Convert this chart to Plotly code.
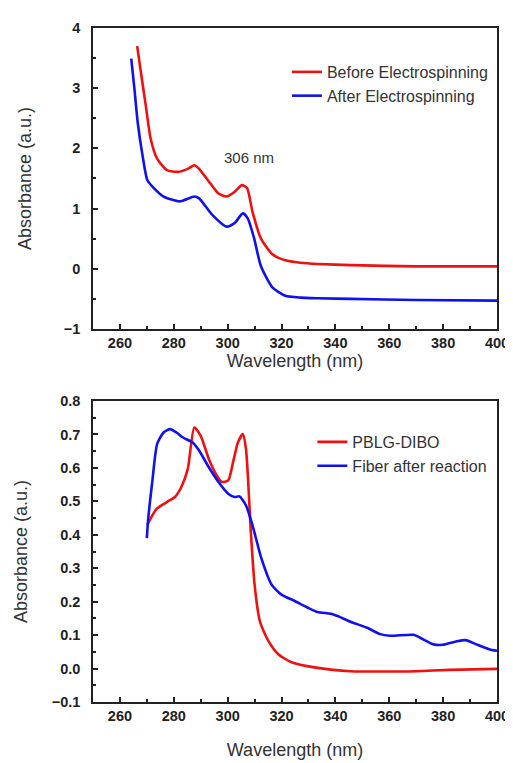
import plotly.graph_objects as go
from plotly.subplots import make_subplots

# top panel: before / after electrospinning
wl_before = [266.4, 267.8, 269.6, 271.4, 273.8, 277.4, 281.6, 285.2, 287.6, 289.4, 293.0, 296.6,
             299.6, 302.6, 305.3, 307.2, 309.2, 312.3, 316.6, 321.4, 327, 333.6, 345.8, 370.2, 400]
abs_before = [3.70, 3.26, 2.71, 2.16, 1.83, 1.64, 1.61, 1.66, 1.72, 1.66, 1.45, 1.25,
              1.20, 1.28, 1.39, 1.34, 0.95, 0.51, 0.24, 0.14, 0.10, 0.08, 0.06, 0.04, 0.04]

wl_after = [264.2, 265.4, 266.6, 268.4, 270.2, 272.6, 276.2, 282.2, 287.6, 289.4, 294.2, 299.6,
            302.6, 305.6, 307.4, 309.8, 312.3, 316.6, 321.4, 327, 333.6, 345.8, 370.2, 400]
abs_after = [3.49, 2.98, 2.43, 1.88, 1.47, 1.34, 1.20, 1.12, 1.20, 1.17, 0.90, 0.70,
             0.76, 0.92, 0.84, 0.51, 0.05, -0.31, -0.45, -0.48, -0.49, -0.50, -0.52, -0.53]

# bottom panel: PBLG-DIBO / fiber after reaction
wl_dibo = [270.2, 271.4, 273.8, 277.4, 280.4, 282.8, 285.2, 287.6, 290.0, 293.0, 296.0, 297.8,
           300.2, 302.0, 303.8, 305.6, 306.8, 308.6, 310.0, 312.0, 315.1, 318.8, 323.7, 333.4,
           345.6, 357.9, 370.1, 382.3, 400]
abs_dibo = [0.429, 0.449, 0.479, 0.498, 0.513, 0.543, 0.597, 0.721, 0.696, 0.627, 0.577, 0.558,
            0.563, 0.617, 0.676, 0.701, 0.657, 0.409, 0.25, 0.14, 0.083, 0.043, 0.019, 0.002,
            -0.008, -0.009, -0.008, -0.004, -0.001]

wl_fiber = [270.0, 270.4, 272.0, 273.8, 276.2, 278.6, 281.0, 283.4, 287.0, 289.4, 293.0, 296.6,
            300.2, 302.6, 304.4, 306.8, 309.2, 312.5, 316.3, 320.0, 324.9, 329.8, 333.4, 338.3,
            340.8, 345.6, 351.8, 356.6, 360.3, 368.9, 371.3, 376.2, 379.9, 384.8, 388.4, 392.1,
            397.0, 400.0]
abs_fiber = [0.390, 0.439, 0.558, 0.671, 0.706, 0.716, 0.706, 0.691, 0.676, 0.652, 0.602, 0.558,
             0.523, 0.513, 0.515, 0.488, 0.429, 0.330, 0.251, 0.221, 0.202, 0.182, 0.169, 0.164,
             0.157, 0.140, 0.122, 0.103, 0.098, 0.101, 0.093, 0.073, 0.071, 0.081, 0.085, 0.073,
             0.058, 0.053]

RED = "#f01010"
BLUE = "#1010f0"

fig = make_subplots(rows=2, cols=1, vertical_spacing=0.107)

fig.add_trace(go.Scatter(x=wl_before, y=abs_before, mode="lines", name="Before Electrospinning",
                         line=dict(color=RED, width=2.6, shape="spline", smoothing=0.6),
                         legend="legend"), row=1, col=1)
fig.add_trace(go.Scatter(x=wl_after, y=abs_after, mode="lines", name="After Electrospinning",
                         line=dict(color=BLUE, width=2.6, shape="spline", smoothing=0.6),
                         legend="legend"), row=1, col=1)
fig.add_trace(go.Scatter(x=wl_dibo, y=abs_dibo, mode="lines", name="PBLG-DIBO",
                         line=dict(color=RED, width=2.6, shape="spline", smoothing=0.6),
                         legend="legend2"), row=2, col=1)
fig.add_trace(go.Scatter(x=wl_fiber, y=abs_fiber, mode="lines", name="Fiber after reaction",
                         line=dict(color=BLUE, width=2.6, shape="spline", smoothing=0.6),
                         legend="legend2"), row=2, col=1)

tickfont = dict(family="Liberation Sans", size=14.5, color="#222", weight="bold")
titlefont = dict(family="Liberation Sans", size=18, color="#333")

xcommon = dict(range=[250, 400], tickvals=[260, 280, 300, 320, 340, 360, 380, 400],
               ticks="inside", ticklen=5, tickwidth=1.5, tickcolor="#222",
               minor=dict(dtick=10, tick0=250, ticks="inside", ticklen=3, tickcolor="#222"),
               showline=True, linecolor="#222", linewidth=1.6, mirror=True,
               showgrid=False, zeroline=False, tickfont=tickfont)
ycommon = dict(ticks="inside", ticklen=5, tickwidth=1.5, tickcolor="#222",
               showline=True, linecolor="#222", linewidth=1.6, mirror=True,
               showgrid=False, zeroline=False, tickfont=tickfont, ticklabelstandoff=8)

fig.update_xaxes(**xcommon)
fig.update_yaxes(**ycommon)

fig.update_xaxes(title=dict(text="Wavelength (nm)", font=titlefont, standoff=0), row=1, col=1)
fig.update_xaxes(title=dict(text="Wavelength (nm)", font=titlefont, standoff=20), row=2, col=1)
fig.update_yaxes(range=[-1, 4], dtick=1, tickformat="d",
                 minor=dict(dtick=0.5, ticks="inside", ticklen=3, tickcolor="#222"),
                 title=dict(text="Absorbance (a.u.)", font=titlefont, standoff=27), row=1, col=1)
fig.update_yaxes(range=[-0.1, 0.8], dtick=0.1, tickformat=".1f",
                 minor=dict(dtick=0.05, ticks="inside", ticklen=3, tickcolor="#222"),
                 title=dict(text="Absorbance (a.u.)", font=titlefont, standoff=19), row=2, col=1)

fig.add_annotation(x=308, y=1.85, xref="x", yref="y", text="306 nm", showarrow=False,
                   font=dict(family="Liberation Sans", size=15, color="#333"))

legfont = dict(family="Liberation Sans", size=16, color="#333")
fig.update_layout(
    width=513, height=763,
    margin=dict(l=80, r=23, t=14, b=69),
    paper_bgcolor="white", plot_bgcolor="white",
    font=dict(family="Liberation Sans"),
    legend=dict(x=0.48, y=0.96, xanchor="left", yanchor="top", font=legfont,
                bgcolor="rgba(0,0,0,0)", tracegroupgap=0, itemwidth=30),
    legend2=dict(x=0.543, y=0.411, xanchor="left", yanchor="top", font=legfont,
                 bgcolor="rgba(0,0,0,0)", tracegroupgap=0, itemwidth=30),
)

fig.write_html("out.html")
